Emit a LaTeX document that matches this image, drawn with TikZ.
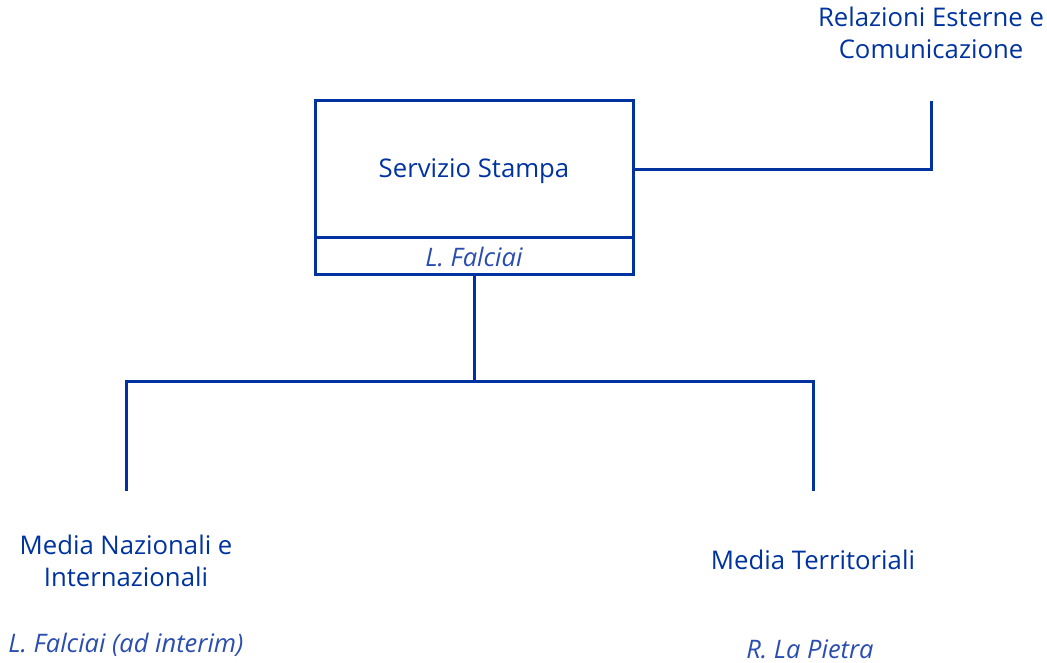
\documentclass[tikz,border=0pt]{standalone}
\usepackage{fontspec}
\setmainfont{Open Sans}
\definecolor{dblue}{HTML}{0033A0}
\definecolor{nblue}{HTML}{2A4DB0}
\begin{document}
\begin{tikzpicture}[x=1pt,y=-1pt,
  line/.style={draw=dblue,line width=3pt},
  unit/.style={text=dblue,font=\fontsize{25.7}{32}\selectfont,align=center,inner sep=0pt},
  who/.style={text=nblue,font=\fontsize{25.5}{32}\selectfont\itshape,inner sep=0pt}]
\useasboundingbox (0,0) rectangle (1047,663);
\draw[line] (315,101) rectangle (633,274);
\draw[line] (315,238) -- (633,238);
\node[unit] (ss) at (474,171) {Servizio Stampa};
\node[who] (lf) at (474,257) {L. Falciai};
\coordinate (boxR) at (633,170);
\coordinate (boxB) at (474,274);
\node[unit] (rel) at (931,33) {Relazioni Esterne e\\Comunicazione};
\coordinate (relB) at (931,101);
\draw[line] (boxR) -| (relB);
\coordinate (mid) at (474,381);
\coordinate (lt) at (126,491);
\coordinate (rt) at (813,491);
\draw[line] (boxB) -- (mid);
\draw[line] (lt) |- (mid) -| (rt);
\node[unit] (mni) at (126,561) {Media Nazionali e\\Internazionali};
\node[who] (lfi) at (126,645) {L. Falciai (ad interim)};
\node[unit] (mt) at (813,560) {Media Territoriali};
\node[who,anchor=base,text depth=0pt] (rlp) at (810,658) {R. La Pietra};
\end{tikzpicture}
\end{document}
